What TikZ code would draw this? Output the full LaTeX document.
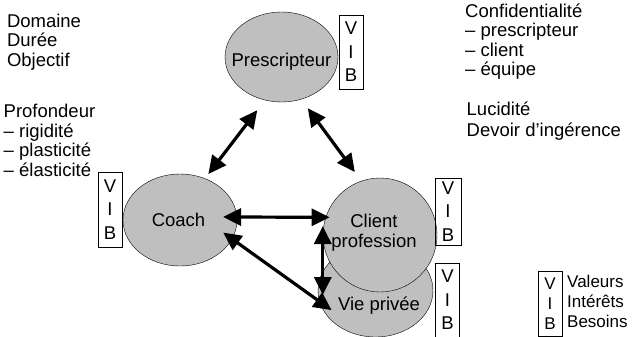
\documentclass[tikz,border=0pt]{standalone}
\usepackage{fontspec}
\setmainfont{Liberation Sans}
\usetikzlibrary{shapes.geometric,arrows.meta}
\begin{document}
\begin{tikzpicture}[x=1pt, y=-1pt, >={Triangle[length=18pt,width=17pt]},
                    font=\fontsize{18.5}{19.5}\selectfont,
                    party/.style={ellipse,draw,fill=black!25,inner sep=0pt},
                    vib/.style={draw,align=center,inner sep=0pt,minimum width=24pt,
                                font=\fontsize{18.5}{23.5}\selectfont},
                    txt/.style={align=left,inner sep=0pt,anchor=north west},
                    link/.style={<->,line width=3.2pt}]
  \useasboundingbox (0,0) rectangle (634,337);

  % parties
  \node[party, minimum width=115pt, minimum height=93pt] (vie) at (375.5,290.5) {};
  \node[party, minimum width=113pt, minimum height=90pt] (presc) at (281.5,57) {};
  \node[party, minimum width=114pt, minimum height=92pt] (coach) at (180,220) {};
  \node[party, minimum width=114pt, minimum height=114pt] (client) at (380,235) {};

  \node[anchor=base] (presc-l) at (281.5,66.7) {Prescripteur};
  \node[anchor=base] (coach-l) at (178.5,226.7) {Coach};
  \node[align=center, anchor=north, inner sep=0pt] (client-l) at (374,214) {Client\\profession};
  \node[anchor=base] (vie-l) at (379,310) {Vie privée};

  % V I B boxes
  \node[vib, minimum height=74pt] (presc-v) at (351,52) {V\\I\\B};
  \node[vib, minimum height=75pt] (coach-v) at (110,209.5) {V\\I\\B};
  \node[vib, minimum width=26pt, minimum height=67pt] (client-v) at (448,211.5) {V\\I\\B};
  \node[vib, minimum height=74pt] (vie-v) at (447.5,300) {V\\I\\B};

  % key
  \node[vib, minimum height=65pt, font=\fontsize{17}{20}\selectfont] (key-v) at (550,303.5) {V\\I\\B};
  \node[align=left, inner sep=0pt, anchor=west, font=\fontsize{17}{20}\selectfont]
    (key-t) at (567,301.5) {Valeurs\\Intérêts\\Besoins};

  % side notes
  \node[txt] (frame) at (6.8,13.5) {Domaine\\Durée\\Objectif};
  \node[txt] (deep) at (3.5,104.3) {Profondeur\\– rigidité\\– plasticité\\– élasticité};
  \node[txt] (confid) at (465,3.2) {Confidentialité\\– prescripteur\\– client\\– équipe};
  \node[txt, font=\fontsize{18.5}{21.5}\selectfont] (duty) at (466.5,101.5) {Lucidité\\Devoir d’ingérence};

  \path
    (presc.-111) edge[link, shorten <=12.5pt, shorten >=5.5pt] (coach.59)
    (presc.-65) edge[link, shorten <=11pt, shorten >=11pt] (client.109)
    (coach.3) edge[link, shorten <=-14pt, shorten >=-4pt] (client.162)
    (coach.-20) edge[link, shorten <=-11pt, shorten >=-15pt] (vie.-169)
    (client.west) edge[link, shorten <=-9pt, shorten >=-4.5pt] (client.west |- vie);
\end{tikzpicture}
\end{document}
